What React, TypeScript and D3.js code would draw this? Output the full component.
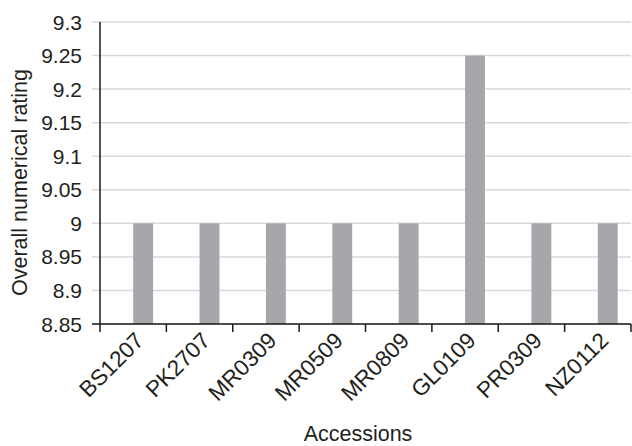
import React from "react";
import * as d3 from "d3";

const categories = ["BS1207", "PK2707", "MR0309", "MR0509", "MR0809", "GL0109", "PR0309", "NZ0112"];
const values = [9, 9, 9, 9, 9, 9.25, 9, 9];
const yTicks = [8.85, 8.9, 8.95, 9, 9.05, 9.1, 9.15, 9.2, 9.25, 9.3];
const yTitle = "Overall numerical rating";
const xTitle = "Accessions";

const W = 632;
const H = 446;
const left = 100;
const right = 631;
const top = 22;
const bottom = 324;
const font = "Liberation Sans, Arial, Helvetica, sans-serif";

export default function App() {
  const x = d3.scaleBand<string>().domain(categories).range([left, right]).padding(0);
  const y = d3.scaleLinear().domain([8.85, 9.3]).range([bottom, top]);
  const bw = x.bandwidth();
  const fmt = (v: number) => String(+v.toFixed(2));
  const tickXs = [...categories.map((c) => x(c)!), right];

  return (
    <svg width={W} height={H} style={{ position: "absolute", left: 0, top: 0, background: "#fff" }} fontFamily={font}>
      {yTicks.map((t) => (
        <line key={"g" + t} x1={92} x2={right} y1={y(t)} y2={y(t)} stroke="#d9d9d9" strokeWidth={1.5} />
      ))}
      {categories.map((c, i) => (
        <rect
          key={c}
          x={x(c)! + bw / 2}
          width={bw * 0.3}
          y={y(values[i])}
          height={bottom - y(values[i])}
          fill="#a6a7aa"
        />
      ))}
      <line x1={left} x2={left} y1={top} y2={bottom} stroke="#1a1a1a" strokeWidth={1.5} />
      <line x1={92} x2={right} y1={bottom} y2={bottom} stroke="#1a1a1a" strokeWidth={1.5} />
      {tickXs.map((tx, i) => (
        <line key={"t" + i} x1={tx} x2={tx} y1={bottom} y2={bottom + 8} stroke="#1a1a1a" strokeWidth={1.5} />
      ))}
      {yTicks.map((t) => (
        <text key={"l" + t} x={82} y={y(t)} dy="0.36em" textAnchor="end" fontSize={21} fill="#231f20">
          {fmt(t)}
        </text>
      ))}
      {categories.map((c) => (
        <text
          key={"x" + c}
          transform={`translate(${x(c)! + bw / 2 + 12},${bottom + 18}) rotate(-45)`}
          textAnchor="end"
          fontSize={22.5}
          fill="#231f20"
        >
          {c}
        </text>
      ))}
      <text x={358} y={441} textAnchor="middle" fontSize={21.5} fill="#231f20">
        {xTitle}
      </text>
      <text transform={`translate(27,182.5) rotate(-90)`} textAnchor="middle" fontSize={21.5} fill="#231f20">
        {yTitle}
      </text>
    </svg>
  );
}
